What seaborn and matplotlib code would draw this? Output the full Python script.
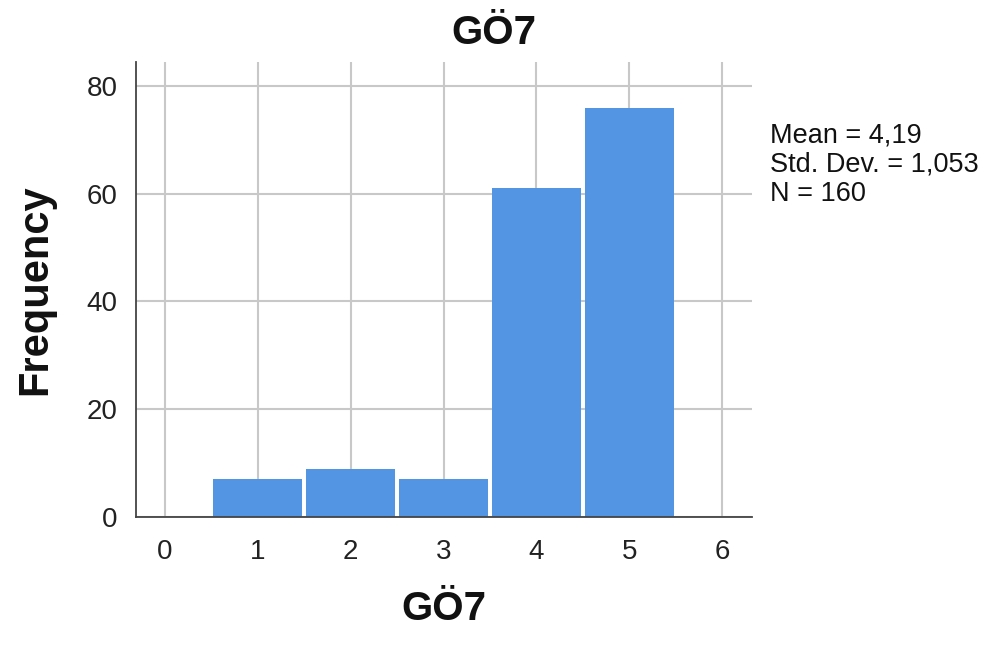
import numpy as np
import pandas as pd
import matplotlib
matplotlib.use("Agg")
import matplotlib.pyplot as plt
import seaborn as sns

# Response categories and their frequencies
categories = [1, 2, 3, 4, 5]
counts = [7, 9, 7, 61, 76]
x_ticks = [0, 1, 2, 3, 4, 5, 6]
y_ticks = [0, 20, 40, 60, 80]
variable_name = "GÖ7"

sns.set_theme(style="white")
plt.rcParams["font.family"] = ["Liberation Sans", "DejaVu Sans"]

df = pd.DataFrame({"value": categories, "count": counts})

fig = plt.figure(figsize=(10.01, 6.5), dpi=100)
ax = fig.add_axes([0.1359, 0.2046, 0.7512 - 0.1359, 0.9046 - 0.2046])
ax.set_axisbelow(True)
ax.grid(True, color="#c8c8c8", linewidth=1.5)

sns.histplot(data=df, x="value", weights="count", discrete=True, shrink=0.955,
             ax=ax, color="#5495e3", alpha=1.0, linewidth=0)

ax.set_xlim(-0.31, 6.32)
ax.set_ylim(0, 84.45)
ax.set_xticks(x_ticks)
ax.set_yticks(y_ticks)
ax.tick_params(axis="y", length=0, labelsize=20, colors="#222222", pad=13.5)
ax.tick_params(axis="x", length=0, labelsize=20, colors="#222222", pad=16)
for side in ("top", "right"):
    ax.spines[side].set_visible(False)
for side in ("left", "bottom"):
    ax.spines[side].set_color("#444444")
    ax.spines[side].set_linewidth(1.3)

ax.set_xlabel(variable_name, fontsize=29, fontweight="bold", labelpad=18,
              color="#111111")
ax.set_ylabel("Frequency", fontsize=30, fontweight="bold", labelpad=22,
              color="#111111")
fig.text(0.4935, 0.949, variable_name, fontsize=29, fontweight="bold",
         ha="center", va="center", color="#111111")

# Summary statistics
vals = np.repeat(categories, counts)
mean = vals.mean()
sd = vals.std(ddof=1)
n = len(vals)
stats = ("Mean = " + f"{mean:.2f}".replace(".", ",") + "\n"
         + "Std. Dev. = " + f"{sd:.3f}".replace(".", ",") + "\n"
         + f"N = {n}")
fig.text(0.769, 0.812, stats, fontsize=19.5, ha="left", va="top",
         linespacing=1.17, color="#111111")

fig.savefig("out.png", dpi=100)
